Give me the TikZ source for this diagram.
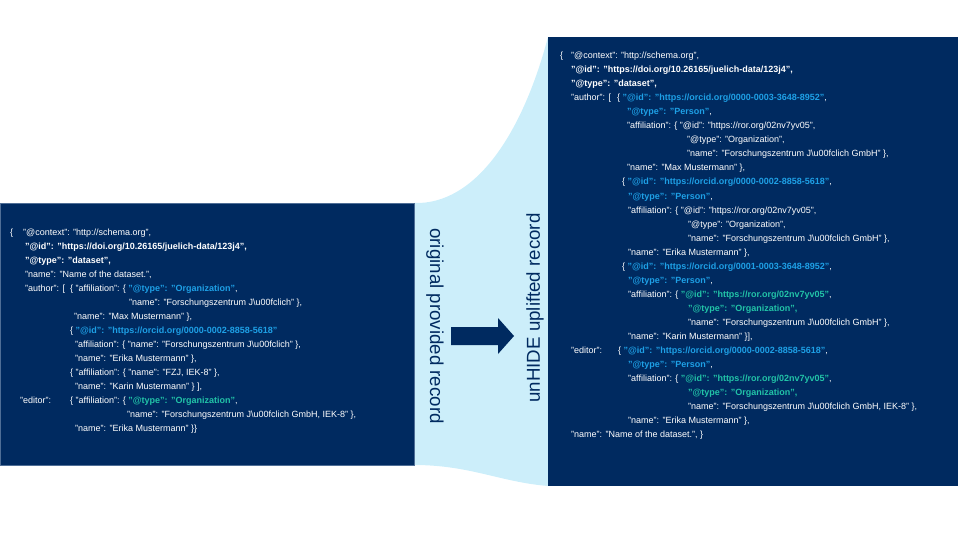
\documentclass[tikz,border=0pt]{standalone}
\usepackage{fontspec}
\setmainfont{Liberation Sans}
\definecolor{navy}{HTML}{002A60}
\definecolor{funnel}{HTML}{CCEEFA}
\definecolor{boxedge}{HTML}{4F6E96}
\definecolor{idblue}{HTML}{1EA0E6}
\definecolor{orgteal}{HTML}{22C4A8}
\newcommand{\hlblue}[1]{\textcolor{idblue}{\bfseries #1}}
\newcommand{\hlteal}[1]{\textcolor{orgteal}{\bfseries #1}}
\newcommand{\fzj}{"Forschungszentrum J\textbackslash u00fclich}
\tikzset{
  json/.style={anchor=base west,inner sep=0pt,text=white,font=\fontsize{9}{11}\selectfont},
  jsonbold/.style={json,font=\fontsize{9}{11}\selectfont\bfseries},
  vlabel/.style={inner sep=0pt,text=navy,font=\fontsize{18.7}{22}\selectfont}
}
\begin{document}
\begin{tikzpicture}[x=1pt,y=-1pt]
  \useasboundingbox (0,0) rectangle (960,540);
  \fill[funnel] (414,203) .. controls (475,205) and (522,135) .. (548,37)
    -- (548,486) .. controls (500,482) and (470,465) .. (414,465) -- cycle;
  \fill[navy,draw=boxedge,line width=0.8pt] (0,203) rectangle (414,465);
  \fill[navy] (548,37) rectangle (958,486);
  \fill[navy] (451,327) -- (498,327) -- (498,318) -- (514,336) -- (498,354) -- (498,345) -- (451,345) -- cycle;
  \node[vlabel,rotate=-90] (orig) at (435,326) {original provided record};
  \node[vlabel,rotate=90] (uplift) at (535,308) {unHIDE uplifted record};

  \node[json] (o1a) at (10,235) {\{};
  \node[json] (o1) at (23,235) {"@context": "http://schema.org",};
  \node[jsonbold] (o2) at (25,249) {"@id": "https://doi.org/10.26165/juelich-data/123j4",};
  \node[jsonbold] (o3) at (25,263) {"@type": "dataset",};
  \node[json] (o4) at (25,277) {"name": "Name of the dataset.",};
  \node[json] (o5a) at (25,291) {"author": [};
  \node[json] (o5) at (70,291) {\{ "affiliation": \{ \hlblue{"@type": "Organization"},};
  \node[json] (o6) at (129,305) {"name": \fzj" \},};
  \node[json] (o7) at (74,319) {"name": "Max Mustermann" \},};
  \node[json] (o8) at (70,333) {\{ \hlblue{"@id": "https://orcid.org/0000-0002-8858-5618"}};
  \node[json] (o9) at (75,347) {"affiliation": \{ "name": \fzj" \},};
  \node[json] (o10) at (75,361) {"name": "Erika Mustermann" \},};
  \node[json] (o11) at (70,375) {\{ "affiliation": \{ "name": "FZJ, IEK-8" \},};
  \node[json] (o12) at (75,389) {"name": "Karin Mustermann" \} ],};
  \node[json] (o13a) at (20,403) {"editor":};
  \node[json] (o13) at (70,403) {\{ "affiliation": \{ \hlteal{"@type": "Organization"},};
  \node[json] (o14) at (127,417) {"name": \fzj{} GmbH, IEK-8" \},};
  \node[json] (o15) at (75,431) {"name": "Erika Mustermann" \}\}};

  \node[json] (u1a) at (560,59) {\{};
  \node[json] (u1) at (571,59) {"@context": "http://schema.org",};
  \node[jsonbold] (u2) at (571,73) {"@id": "https://doi.org/10.26165/juelich-data/123j4",};
  \node[jsonbold] (u3) at (571,87) {"@type": "dataset",};
  \node[json] (u4a) at (571,101) {"author": [};
  \node[json] (u4) at (617,101) {\{ \hlblue{"@id": "https://orcid.org/0000-0003-3648-8952"},};
  \node[json] (u5) at (627,115) {\hlblue{"@type": "Person"},};
  \node[json] (u6) at (627,129) {"affiliation": \{ "@id": "https://ror.org/02nv7yv05",};
  \node[json] (u7) at (687,143) {"@type": "Organization",};
  \node[json] (u8) at (687,157) {"name": \fzj{} GmbH" \},};
  \node[json] (u9) at (627,171) {"name": "Max Mustermann" \},};
  \node[json] (u10) at (622,185) {\{ \hlblue{"@id": "https://orcid.org/0000-0002-8858-5618"},};
  \node[json] (u11) at (628,199) {\hlblue{"@type": "Person"},};
  \node[json] (u12) at (628,213) {"affiliation": \{ "@id": "https://ror.org/02nv7yv05",};
  \node[json] (u13) at (688,227) {"@type": "Organization",};
  \node[json] (u14) at (688,241) {"name": \fzj{} GmbH" \},};
  \node[json] (u15) at (628,255) {"name": "Erika Mustermann" \},};
  \node[json] (u16) at (622,269) {\{ \hlblue{"@id": "https://orcid.org/0001-0003-3648-8952"},};
  \node[json] (u17) at (628,283) {\hlblue{"@type": "Person"},};
  \node[json] (u18) at (628,297) {"affiliation": \{ \hlteal{"@id": "https://ror.org/02nv7yv05"},};
  \node[json] (u19) at (688,311) {\hlteal{"@type": "Organization",}};
  \node[json] (u20) at (688,325) {"name": \fzj{} GmbH" \},};
  \node[json] (u21) at (628,339) {"name": "Karin Mustermann" \}],};
  \node[json] (u22a) at (571,353) {"editor":};
  \node[json] (u22) at (618,353) {\{ \hlblue{"@id": "https://orcid.org/0000-0002-8858-5618"},};
  \node[json] (u23) at (628,367) {\hlblue{"@type": "Person"},};
  \node[json] (u24) at (628,381) {"affiliation": \{ \hlteal{"@id": "https://ror.org/02nv7yv05"},};
  \node[json] (u25) at (688,395) {\hlteal{"@type": "Organization",}};
  \node[json] (u26) at (688,409) {"name": \fzj{} GmbH, IEK-8" \},};
  \node[json] (u27) at (628,423) {"name": "Erika Mustermann" \},};
  \node[json] (u28) at (571,437) {"name": "Name of the dataset.", \}};
\end{tikzpicture}
\end{document}
